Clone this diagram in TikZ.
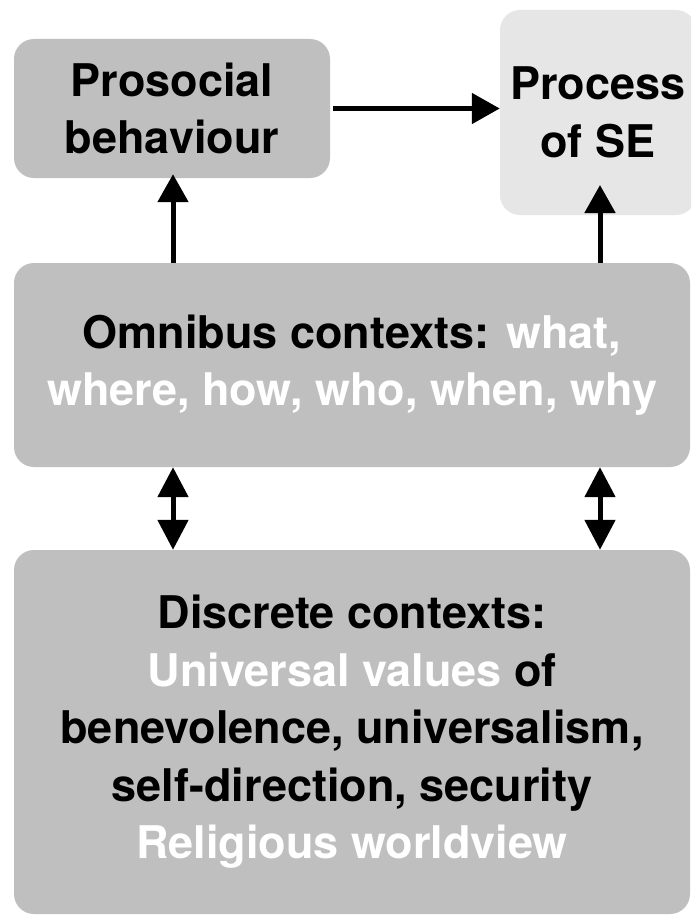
\documentclass[tikz,border=0pt]{standalone}
\usepackage{fontspec}
\setmainfont{TeX Gyre Heros}
\usetikzlibrary{arrows.meta}
\definecolor{boxgray}{HTML}{BFBFBF}
\definecolor{lightbox}{HTML}{E6E6E6}
\tikzset{
  box/.style={draw=none, fill=boxgray, rounded corners=20pt, align=center,
    font=\fontsize{45}{57.5}\selectfont\bfseries, inner sep=0pt},
  lbox/.style={box, fill=lightbox},
  arr/.style={line width=5pt, -{Triangle[length=28pt,width=30pt]}},
  darr/.style={line width=5pt, {Triangle[length=30pt,width=30pt]}-{Triangle[length=30pt,width=30pt]}}
}
\begin{document}
\begin{tikzpicture}[x=1pt,y=-1pt]
\useasboundingbox[fill=white] (0,0) rectangle (691,923);
\clip (0,0) rectangle (691,923);
\node[box, minimum width=316pt, minimum height=139pt] (pro) at (172,108.5) {Prosocial\\behaviour};
\node[lbox, minimum width=196pt, minimum height=205pt] (proc) at (598,112.5) {Process\\of SE};
\node[box, minimum width=676pt, minimum height=204pt] (omni) at (352,365) {Omnibus contexts: \textcolor{white}{what,}\\\textcolor{white}{where, how, who, when, why}};
\node[box, minimum width=676pt, minimum height=364pt] (disc) at (352,732) {\raisebox{-6pt}{\begin{tabular}{@{}c@{}}Discrete contexts:\\\textcolor{white}{Universal values} of\\benevolence, universalism,\\self-direction, security\\\textcolor{white}{Religious worldview}\end{tabular}}};
\coordinate (ptip) at (600,185);
\draw[arr] ([xshift=3pt]pro.east) -- (pro.east -| proc.west);
\draw[arr] (omni.north -| 173,0) -- ([yshift=4pt]pro.south -| 173,0);
\draw[arr] (omni.north -| ptip) -- (ptip);
\draw[darr] (omni.south -| 173,0) -- (disc.north -| 173,0);
\draw[darr] (omni.south -| 600,0) -- (disc.north -| 600,0);
\end{tikzpicture}
\end{document}
